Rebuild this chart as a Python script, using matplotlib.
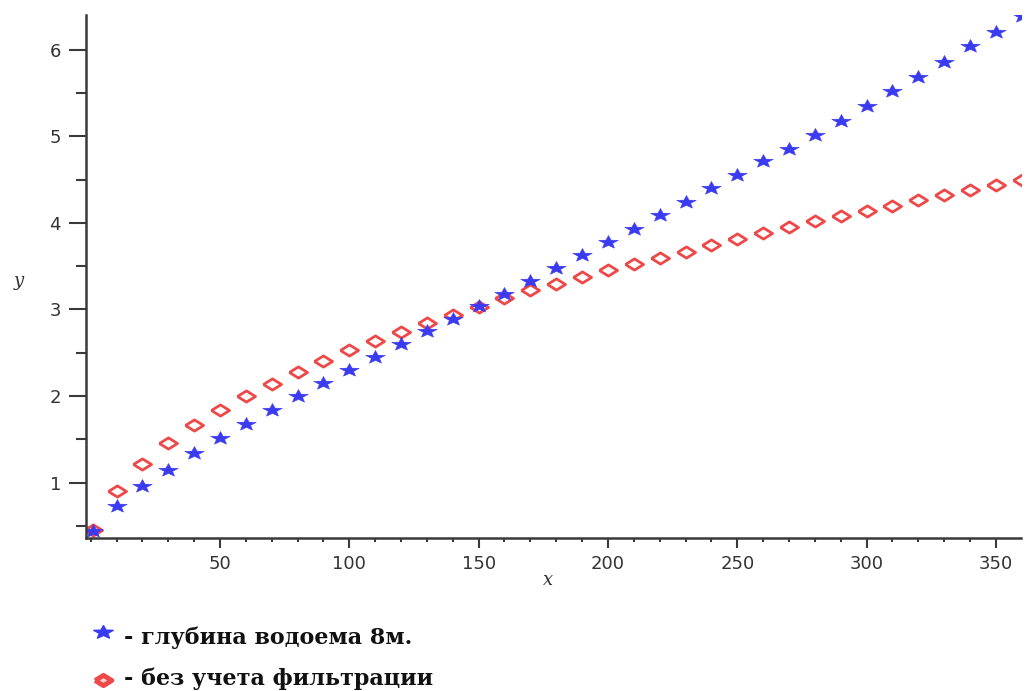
import numpy as np
import matplotlib.pyplot as plt
from matplotlib.ticker import MultipleLocator

## ===== Data ===== ##

x_vals = [1, 10, 20, 30, 40, 50, 60, 70, 80, 90, 100, 110, 120, 130, 140, 150,
          160, 170, 180, 190, 200, 210, 220, 230, 240, 250, 260, 270, 280, 290,
          300, 310, 320, 330, 340, 350, 360]

# depth 8 m (blue stars)
y_depth8 = [0.44, 0.73, 0.96, 1.15, 1.34, 1.51, 1.68, 1.84, 2.00, 2.15, 2.30,
            2.45, 2.60, 2.75, 2.89, 3.04, 3.18, 3.33, 3.48, 3.63, 3.78, 3.93,
            4.09, 4.24, 4.40, 4.55, 4.71, 4.86, 5.02, 5.18, 5.35, 5.52, 5.69,
            5.86, 6.04, 6.21, 6.39]

# without filtration (red diamonds)
y_nofilt = [0.45, 0.90, 1.22, 1.46, 1.66, 1.84, 2.00, 2.14, 2.28, 2.41, 2.53,
            2.64, 2.74, 2.84, 2.94, 3.03, 3.13, 3.22, 3.30, 3.38, 3.46, 3.53,
            3.60, 3.67, 3.74, 3.82, 3.88, 3.95, 4.02, 4.08, 4.14, 4.20, 4.27,
            4.32, 4.38, 4.44, 4.50]

legend_labels = ["- глубина водоема 8м.", "- без учета фильтрации"]

BLUE = "#3a3af0"
RED = "#ee4848"
AXIS_COL = "#3a3a3a"

## ================ ##

# markers in the reference are squashed vertically
flat_diamond = [(-1, 0), (0, 0.62), (1, 0), (0, -0.62), (-1, 0)]
ang = np.pi / 2 + np.arange(10) * np.pi / 5
rad = np.where(np.arange(10) % 2 == 0, 1.0, 0.42)
flat_star = list(zip(rad * np.cos(ang), 0.68 * rad * np.sin(ang)))
flat_star.append(flat_star[0])

fig = plt.figure(figsize=(10.3, 6.91), dpi=100)
ax = fig.add_axes([0.0835, 0.2214, 0.9075, 0.7566])

ax.plot(x_vals, y_nofilt, linestyle="none", marker=flat_diamond, markersize=13,
        markerfacecolor="white", markeredgecolor=RED, markeredgewidth=2.0)
ax.plot(x_vals, y_depth8, linestyle="none", marker=flat_star, markersize=14,
        color=BLUE, markeredgewidth=0.4)

ax.set_xlim(-1.8, 359.6)
ax.set_ylim(0.36, 6.4)

ax.xaxis.set_major_locator(MultipleLocator(50))
ax.xaxis.set_minor_locator(MultipleLocator(10))
ax.yaxis.set_major_locator(MultipleLocator(1))
ax.yaxis.set_minor_locator(MultipleLocator(0.5))
ax.set_xticks([50, 100, 150, 200, 250, 300, 350])
ax.set_yticks([1, 2, 3, 4, 5, 6])

for s in ["top", "right"]:
    ax.spines[s].set_visible(False)
for s in ["left", "bottom"]:
    ax.spines[s].set_color(AXIS_COL)
    ax.spines[s].set_linewidth(1.8)

ax.tick_params(axis="y", which="major", length=12, width=1.5, color=AXIS_COL,
               labelsize=13, labelcolor="#333333", pad=6)
ax.tick_params(axis="y", which="minor", length=7, width=1.5, color=AXIS_COL)
ax.tick_params(axis="x", which="major", length=7, width=1.5, color=AXIS_COL,
               labelsize=13, labelcolor="#333333", pad=5)
ax.tick_params(axis="x", which="minor", length=3, width=1.5, color=AXIS_COL)

fig.text(0.532, 0.161, "x", fontsize=13, style="italic", family="DejaVu Serif",
         color="#333333", ha="center", va="center")
fig.text(0.018, 0.594, "y", fontsize=13, style="italic", family="DejaVu Serif",
         color="#333333", ha="center", va="center")

# legend drawn below the plot, in pixel coordinates from the top
leg_ax = fig.add_axes([0, 0, 1, 1], facecolor="none")
leg_ax.set_xlim(0, 1030)
leg_ax.set_ylim(691, 0)
leg_ax.axis("off")
leg_ax.plot([103], [632], linestyle="none", marker=flat_star, markersize=14,
            color=BLUE)
leg_ax.plot([103], [680], linestyle="none", marker=flat_diamond, markersize=12,
            markerfacecolor="#fbd0d0", markeredgecolor=RED, markeredgewidth=3.5)
leg_ax.text(124, 644, legend_labels[0], fontsize=16, fontweight="bold",
            family="DejaVu Serif", va="baseline", ha="left", color="#111111")
leg_ax.text(124, 685, legend_labels[1], fontsize=16, fontweight="bold",
            family="DejaVu Serif", va="baseline", ha="left", color="#111111")

fig.savefig("out.png", dpi=100)
